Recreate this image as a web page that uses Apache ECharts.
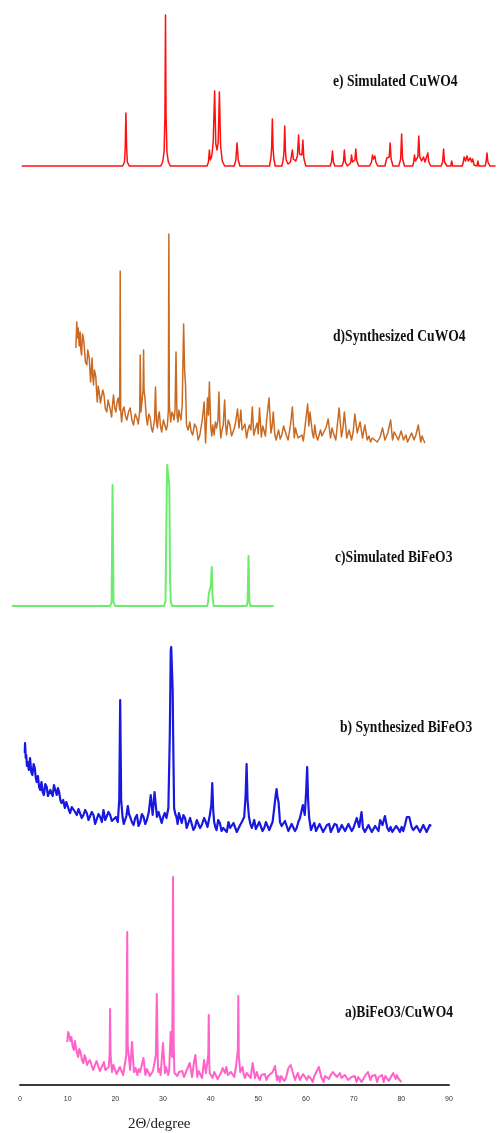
<!DOCTYPE html>
<html>
<head>
<meta charset="utf-8">
<script src="https://cdn.jsdelivr.net/npm/echarts@6/dist/echarts.min.js"></script>
<style>
  html, body { margin: 0; padding: 0; background: #fff; }
</style>
</head>
<body>
<div id="container" style="width: 497px; height: 1133px;"></div>
<script>
    // 2θ (degree) / relative intensity
    var simCuWO4 = [
        [0.35,0],[21.5,0],[21.9,4],[22.05,18],[22.2,53],[22.35,18],[22.5,4],[22.9,0],
        [29.5,0],[29.9,4],[30.2,14],[30.38,50],[30.5,151],[30.62,50],[30.8,14],[31.1,4],[31.5,0],
        [39.2,0],[39.5,4],[39.7,16],[39.9,6],[40.2,10],[40.5,24],[40.8,75],[41.05,22],[41.3,16],[41.55,24],[41.8,74],[42.05,20],[42.4,5],[42.9,0],
        [44.9,0],[45.25,6],[45.5,23],[45.75,6],[46.1,0],
        [47.9,0],[48.1,2],[48.3,0],
        [52.3,0],[52.6,8],[52.75,18],[52.9,47],[53.05,18],[53.2,8],[53.5,0],
        [54.9,0],[55.2,7],[55.35,15],[55.5,40],[55.65,15],[55.8,6],[56.2,2],[56.7,4],[57.1,16],[57.3,7],
        [57.8,5],[58.15,10],[58.4,31],[58.6,12],[58.9,10],[59.1,11],[59.3,26],[59.5,8],[59.9,0],
        [65.0,0],[65.3,4],[65.5,15],[65.7,4],[66.0,0],
        [67.5,0],[67.8,4],[68.0,16],[68.2,4],[68.6,0],
        [69.0,0],[69.3,3],[69.5,11],[69.7,4],[70.0,4],[70.2,6],[70.4,17],[70.6,5],[71.0,0],
        [73.3,0],[73.7,4],[73.9,11],[74.1,7],[74.4,10],[74.6,4],[75.0,0],
        [76.5,0],[76.9,8],[77.2,6],[77.4,9],[77.6,23],[77.8,7],[78.2,0],
        [79.4,0],[79.8,7],[80.0,32],[80.2,7],[80.6,0],
        [82.3,0],[82.5,3],[82.7,11],[82.9,5],[83.2,6],[83.4,9],[83.6,30],[83.8,9],[84.2,5],[84.6,9],[84.9,4],[85.2,5],[85.5,13],[85.7,4],[86.1,0],
        [88.3,0],[88.6,4],[88.8,17],[89.0,4],[89.5,0],
        [90.3,0],[90.5,5],[90.7,0],
        [92.7,0],[92.9,3],[93.1,9],[93.4,5],[93.7,10],[94.0,5],[94.4,8],[94.7,4],[94.9,7],[95.2,1],[95.6,0],
        [95.8,0],[96.0,5],[96.2,0],
        [97.5,0],[97.7,4],[97.9,13],[98.1,4],[98.5,0],[99.7,0]
    ];

    var synCuWO4 = [
        [11.7,102],[11.9,128],[12.05,112],[12.2,122],[12.4,104],[12.6,118],[12.75,100],[12.9,95],[13.1,116],[13.4,108],
        [13.7,88],[14.0,85],[14.2,100],[14.5,92],[14.8,68],[15.1,92],[15.25,74],[15.4,65],[15.6,80],[15.9,73],
        [16.05,58],[16.2,48],[16.4,64],[16.6,58],[16.85,47],[17.1,45],[17.35,60],[17.6,55],[17.9,41],[18.2,38],
        [18.45,50],[18.7,52],[18.95,40],[19.2,33],[19.4,46],[19.6,55],[19.85,42],[20.1,38],[20.35,48],[20.6,52],
        [20.9,40],[21.0,179],[21.1,40],[21.3,28],[21.55,40],[21.8,43],[22.1,34],[22.4,30],[22.75,38],[23.1,42],
        [23.45,30],[23.8,25],[24.15,36],[24.5,32],[24.8,26],[25.1,40],[25.2,95],[25.35,38],[25.5,45],[25.8,60],
        [25.9,100],[26.0,60],[26.2,52],[26.45,34],[26.7,25],[27.0,36],[27.3,32],[27.55,22],[27.8,18],[28.2,30],
        [28.4,63],[28.6,28],[28.8,22],[29.0,34],[29.2,38],[29.45,24],[29.7,18],[30.05,30],[30.4,28],[30.65,20],
        [30.9,25],[31.1,40],[31.2,216],[31.3,45],[31.6,28],[31.85,38],[32.1,35],[32.3,30],[32.5,40],[32.7,98],
        [32.9,35],[33.1,28],[33.3,40],[33.5,35],[33.75,30],[34.0,45],[34.3,126],[34.5,80],[34.7,65],[34.9,25],
        [35.25,20],[35.6,28],[35.9,18],[36.2,15],[36.6,26],[37.0,22],[37.35,10],[37.7,15],[38.2,30],[38.6,48],
        [38.9,7],[39.1,30],[39.3,52],[39.5,35],[39.7,68],[40.0,22],[40.2,14],[40.4,25],[40.7,15],[40.95,28],
        [41.2,22],[41.5,30],[41.7,58],[41.9,25],[42.1,12],[42.35,20],[42.6,25],[42.9,50],[43.1,25],[43.3,15],
        [43.65,30],[44.0,25],[44.35,14],[44.7,12],[44.95,22],[45.2,28],[45.6,41],[45.9,22],[46.1,30],[46.3,40],
        [46.55,20],[46.8,18],[47.15,26],[47.5,12],[47.8,20],[48.1,25],[48.4,20],[48.7,43],[49.0,15],[49.3,13],
        [49.7,27],[49.95,16],[50.2,42],[50.6,13],[50.9,24],[51.2,22],[51.45,14],[51.7,30],[52.2,52],[52.6,17],
        [52.85,24],[53.1,38],[53.4,16],[53.7,10],[54.2,20],[54.55,11],[54.9,15],[55.25,24],[55.6,22],[55.9,14],
        [56.2,10],[56.7,25],[57.1,43],[57.5,12],[57.75,22],[58.0,17],[58.3,12],[58.6,10],[59.1,15],[59.4,9],
        [59.7,10],[60.3,46],[60.55,24],[60.8,38],[61.3,17],[61.55,12],[61.8,25],[62.1,14],[62.4,10],[63.0,20],
        [63.3,14],[63.6,12],[64.2,23],[64.6,31],[65.1,12],[65.4,22],[65.7,17],[66.2,10],[66.9,42],[67.4,13],
        [67.7,22],[68.0,38],[68.5,12],[69.0,20],[69.5,10],[69.85,18],[70.2,36],[70.7,17],[71.3,28],[71.8,12],
        [72.3,25],[72.8,10],[73.15,14],[73.5,8],[73.85,12],[74.2,10],[74.9,8],[75.5,13],[76.0,22],[76.5,10],
        [77.1,17],[77.7,30],[78.1,10],[78.45,18],[78.8,15],[79.3,10],[79.9,19],[80.4,10],[80.9,15],[81.25,8],
        [81.6,10],[82.1,17],[82.6,10],[83.0,15],[83.5,25],[84.0,8],[84.3,14],[84.6,10],[84.9,7]
    ];

    var simBiFeO3 = [
        [-1.7,0],[18.9,0],[19.2,4],[19.3,60],[19.4,121],[19.5,60],[19.6,4],[19.9,0],
        [30.2,0],[30.5,5],[30.7,90],[30.85,141],[31.1,140],[31.3,120],[31.45,30],[31.6,4],[31.9,0],
        [37.9,0],[38.1,2],[38.3,0],
        [39.2,0],[39.4,3],[39.6,13],[39.8,11],[40.0,20],[40.2,39],[40.35,10],[40.6,0],
        [47.5,0],[47.7,4],[47.8,25],[47.9,50],[48.0,25],[48.1,4],[48.3,0],[53.2,0]
    ];

    var synBiFeO3 = [
        [1.0,87],[1.05,97],[1.2,82],[1.3,85],[1.45,74],[1.6,78],[1.85,70],[2.1,82],[2.35,68],[2.6,65],
        [2.85,76],[3.1,72],[3.3,62],[3.5,58],[3.75,64],[4.0,53],[4.25,50],[4.5,58],[4.75,48],[5.0,45],
        [5.3,56],[5.6,53],[5.85,44],[6.1,42],[6.35,50],[6.6,52],[6.85,44],[7.1,55],[7.4,50],[7.7,45],
        [7.95,52],[8.2,48],[8.45,40],[8.7,37],[9.05,40],[9.4,32],[9.7,38],[10.0,37],[10.25,30],[10.5,27],
        [10.85,33],[11.2,35],[11.55,28],[11.9,25],[12.25,31],[12.6,30],[12.95,22],[13.3,25],[13.65,30],[14.0,27],
        [14.35,20],[14.7,22],[15.05,28],[15.4,25],[15.75,16],[16.1,17],[16.45,26],[16.8,23],[17.15,18],[17.5,30],
        [17.85,20],[18.2,22],[18.55,28],[18.9,25],[19.25,19],[19.6,17],[20.1,23],[20.5,18],[20.8,40],[21.0,140],
        [21.2,40],[21.5,23],[21.75,16],[22.0,18],[22.3,24],[22.6,34],[22.85,26],[23.1,23],[23.45,18],[23.8,15],
        [24.15,22],[24.5,25],[24.85,14],[25.2,18],[25.55,26],[25.9,23],[26.25,16],[26.6,20],[27.0,28],[27.4,45],
        [27.8,25],[28.2,48],[28.7,23],[29.05,28],[29.4,22],[29.7,17],[30.0,23],[30.35,27],[30.7,22],[31.1,32],
        [31.4,105],[31.6,190],[31.7,193],[31.9,193],[32.0,150],[32.1,105],[32.3,32],[32.55,26],[32.8,23],[33.05,16],
        [33.3,27],[33.6,22],[33.9,17],[34.25,25],[34.6,22],[34.95,12],[35.3,13],[35.65,22],[36.0,20],[36.35,10],
        [36.7,13],[37.05,20],[37.4,22],[37.75,12],[38.1,15],[38.6,22],[38.95,18],[39.3,13],[39.8,25],[40.1,35],
        [40.3,57],[40.5,30],[40.7,18],[40.95,13],[41.2,10],[41.55,20],[41.9,17],[42.25,9],[42.6,12],[43.0,13],
        [43.35,8],[43.7,18],[44.05,12],[44.4,10],[44.75,17],[45.1,18],[45.45,8],[45.8,10],[46.15,15],[46.5,18],
        [47.0,23],[47.3,45],[47.5,76],[47.7,40],[48.0,23],[48.3,16],[48.6,12],[49.1,20],[49.45,11],[49.8,10],
        [50.15,18],[50.5,17],[50.85,9],[51.2,12],[51.55,18],[51.9,20],[52.25,10],[52.6,12],[52.95,18],[53.3,32],
        [53.6,45],[53.8,51],[54.0,42],[54.2,38],[54.5,18],[54.85,14],[55.2,12],[55.55,19],[55.9,17],[56.25,9],
        [56.6,10],[56.95,16],[57.3,18],[57.65,9],[58.0,12],[58.35,18],[58.7,22],[59.3,35],[59.7,25],[60.0,50],
        [60.2,73],[60.4,40],[60.6,23],[61.0,10],[61.35,14],[61.7,17],[62.05,9],[62.4,10],[62.8,16],[63.2,15],
        [63.55,8],[63.9,10],[64.35,15],[64.8,16],[65.15,8],[65.5,10],[65.95,16],[66.4,15],[66.75,8],[67.1,11],
        [67.45,15],[67.8,17],[68.15,9],[68.5,10],[68.85,16],[69.2,15],[69.55,9],[69.9,12],[70.25,14],[70.6,22],
        [71.1,13],[71.6,28],[71.9,12],[72.3,8],[72.7,10],[73.05,15],[73.4,13],[73.75,8],[74.1,10],[74.45,14],
        [74.8,13],[75.15,9],[75.5,20],[76.0,15],[76.5,24],[77.0,12],[77.35,9],[77.7,13],[78.05,8],[78.4,10],
        [78.85,14],[79.3,11],[79.65,8],[80.0,13],[80.35,9],[80.7,15],[81.1,23],[81.35,21],[81.6,23],[82.1,13],
        [82.45,10],[82.8,8],[83.15,14],[83.5,15],[83.85,8],[84.2,10],[84.55,15],[84.9,14],[85.25,8],[85.6,10],
        [85.9,15],[86.2,14]
    ];

    var composite = [
        [9.9,43],[10.1,53],[10.3,50],[10.55,44],[10.8,48],[11.05,38],[11.3,35],[11.5,44],[11.7,42],[11.95,32],
        [12.2,28],[12.45,36],[12.7,33],[13.0,25],[13.3,22],[13.55,30],[13.8,27],[14.05,20],[14.3,18],[14.65,25],
        [15.0,23],[15.35,15],[15.7,17],[16.05,24],[16.4,22],[16.75,14],[17.1,16],[17.35,20],[17.6,23],[17.9,15],
        [18.2,13],[18.6,18],[18.8,30],[18.9,76],[19.0,30],[19.3,13],[19.6,20],[19.9,18],[20.25,11],[20.6,12],
        [20.95,18],[21.3,17],[21.65,10],[22.0,11],[22.3,30],[22.5,153],[22.6,40],[22.8,40],[23.1,15],[23.5,43],
        [23.9,13],[24.25,17],[24.6,10],[24.9,16],[25.2,13],[25.9,27],[26.3,10],[26.6,16],[26.9,13],[27.25,9],
        [27.6,8],[27.9,14],[28.2,15],[28.5,30],[28.7,91],[28.9,25],[29.0,13],[29.25,16],[29.5,10],[30.0,42],
        [30.4,12],[30.65,18],[30.9,17],[31.1,10],[31.3,15],[31.6,53],[31.9,28],[32.0,80],[32.1,208],[32.25,40],
        [32.4,12],[32.7,14],[33.0,9],[33.35,13],[33.7,11],[34.05,14],[34.4,8],[34.75,12],[35.1,13],[35.6,22],
        [36.1,8],[36.5,23],[36.8,30],[37.2,8],[37.45,14],[37.7,12],[38.2,7],[38.6,25],[39.0,12],[39.5,30],
        [39.6,70],[39.7,25],[39.8,12],[40.1,14],[40.4,7],[40.75,13],[41.1,12],[41.45,6],[41.8,7],[42.15,12],
        [42.5,17],[43.0,12],[43.3,18],[43.6,10],[43.9,8],[44.25,13],[44.6,12],[44.95,8],[45.3,18],[45.7,35],
        [45.8,89],[45.9,30],[46.2,13],[46.7,18],[46.95,10],[47.2,7],[47.55,12],[47.9,10],[48.4,7],[48.8,22],
        [49.3,7],[49.7,13],[50.0,8],[50.3,5],[50.65,10],[51.0,8],[51.35,11],[51.7,5],[52.05,9],[52.4,10],
        [53.0,13],[53.5,19],[53.9,5],[54.2,9],[54.5,3],[54.8,9],[55.1,8],[55.45,4],[55.8,7],[56.3,17],
        [56.8,20],[57.2,13],[57.7,5],[58.0,9],[58.3,12],[58.7,5],[59.1,7],[59.4,11],[59.7,13],[60.2,5],
        [60.5,9],[60.8,10],[61.1,6],[61.4,3],[61.75,9],[62.1,8],[62.7,18],[63.2,8],[63.7,3],[64.0,9],
        [64.3,8],[64.8,6],[65.2,10],[65.6,13],[66.0,15],[66.5,8],[67.1,12],[67.45,7],[67.8,5],[68.15,10],
        [68.5,8],[68.85,5],[69.2,3],[69.55,8],[69.9,6],[70.25,9],[70.6,3],[70.95,8],[71.3,7],[71.65,3],
        [72.0,5],[72.5,10],[73.0,13],[73.5,5],[73.85,9],[74.2,7],[74.55,10],[74.9,3],[75.25,8],[75.6,7],
        [75.95,10],[76.3,3],[76.65,9],[77.0,8],[77.35,4],[77.7,5],[78.3,12],[78.8,6],[79.05,10],[79.3,7],
        [79.65,9],[80.0,3]
    ];

    var labels = ['e) Simulated CuWO4', 'd)Synthesized CuWO4', 'c)Simulated BiFeO3', 'b) Synthesized BiFeO3', 'a)BiFeO3/CuWO4'];
    var xTicks = [0, 10, 20, 30, 40, 50, 60, 70, 80, 90];

    var myChart = echarts.init(document.getElementById('container'));

    // one strip per pattern, stacked top to bottom
    var grids = [
        {left: 0, right: 0, top: 0, height: 166},
        {left: 0, right: 0, top: 200, height: 250},
        {left: 0, right: 0, top: 450, height: 156},
        {left: 0, right: 0, top: 630, height: 210},
        {left: 20, right: 48, top: 860, height: 227}
    ];
    var yMax = [166, 250, 156, 210, 225];
    var yMin = [0, 0, 0, 0, -2];
    var datasets = [simCuWO4, synCuWO4, simBiFeO3, synBiFeO3, composite];
    var colors = ['#ff1010', '#c96a22', '#6cec6c', '#1818e0', '#ff62c8'];
    var widths = [1.5, 1.5, 2, 2.2, 2];

    var xAxes = [], yAxes = [], series = [];
    for (var i = 0; i < 5; i++) {
        if (i < 4) {
            xAxes.push({gridIndex: i, type: 'value', min: -4.2, max: 100, show: false});
        } else {
            xAxes.push({
                gridIndex: i, type: 'value', min: 0, max: 90, interval: 10,
                axisLine: {lineStyle: {color: '#3a3a3a', width: 2}},
                axisTick: {show: false},
                splitLine: {show: false},
                axisLabel: {
                    margin: 9, fontSize: 7, color: '#333', fontFamily: 'Liberation Sans',
                    formatter: function (v) { return xTicks.indexOf(v) >= 0 ? String(v) : ''; }
                }
            });
        }
        yAxes.push({gridIndex: i, type: 'value', min: yMin[i], max: yMax[i], show: false});
        series.push({
            type: 'line', xAxisIndex: i, yAxisIndex: i,
            data: datasets[i], showSymbol: false, symbol: 'none',
            lineStyle: {color: colors[i], width: widths[i], join: 'round'},
            clip: false
        });
    }

    var labelPos = [[333, 82], [333, 337], [335, 558], [340, 728], [345, 1013]];
    var graphics = labels.map(function (t, k) {
        return {
            type: 'text', x: labelPos[k][0], y: labelPos[k][1], scaleX: 0.85,
            style: {
                text: t, fill: '#111',
                font: 'bold 16px "Liberation Serif"',
                textVerticalAlign: 'middle'
            }
        };
    });
    graphics.push({
        type: 'text', x: 128, y: 1124,
        style: {text: '2Θ/degree', fill: '#222', font: '15px "Liberation Serif"', textVerticalAlign: 'middle'}
    });

    var option = {
        backgroundColor: '#fff',
        animation: false,
        grid: grids,
        xAxis: xAxes,
        yAxis: yAxes,
        series: series,
        graphic: graphics
    };

    myChart.setOption(option);
</script>
</body>
</html>
